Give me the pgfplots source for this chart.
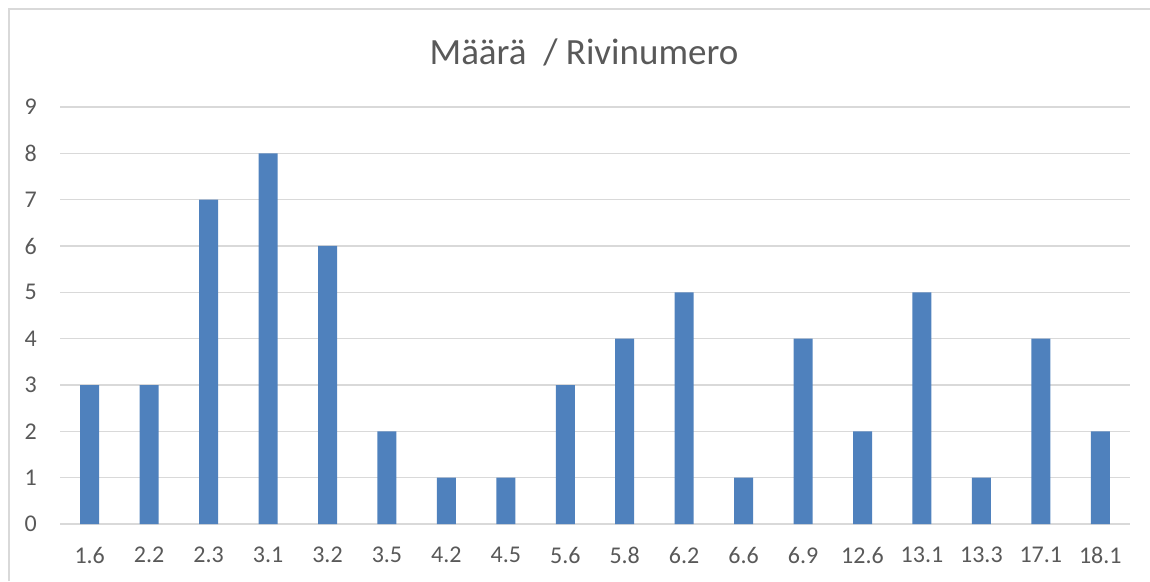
\documentclass[border=0pt]{standalone}
\usepackage{fontspec}
\setmainfont{Carlito}
\usepackage{pgfplots}
\pgfplotsset{compat=1.18}
\definecolor{barblue}{HTML}{4F81BD}
\definecolor{gridgrey}{HTML}{D9D9D9}
\definecolor{txtgrey}{HTML}{595959}
\begin{document}
\begin{tikzpicture}
\path[use as bounding box] (0,0) rectangle (1150pt,581pt);
\draw[gridgrey, line width=2pt] (9pt,0pt) -- (9pt,572pt) -- (1150pt,572pt);
\node[txtgrey, font=\fontsize{37}{42}\selectfont] at (584pt,529pt) {Määrä~ / Rivinumero};
\begin{axis}[
  at={(60pt,57pt)}, anchor=south west,
  scale only axis, width=1070pt, height=417pt,
  ybar, bar width=19pt,
  xmin=-0.5, xmax=17.5, ymin=0, ymax=9,
  xtick=data,
  xticklabels={1.6,2.2,2.3,3.1,3.2,3.5,4.2,4.5,5.6,5.8,6.2,6.6,6.9,12.6,13.1,13.3,17.1,18.1},
  ytick={0,1,...,9},
  major tick length=0pt,
  axis x line*=bottom, axis y line*=left,
  x axis line style={gridgrey, line width=1.5pt, -},
  y axis line style={draw=none},
  ymajorgrids, grid style={gridgrey, line width=1.2pt},
  /pgf/number format/assume math mode=true,
  ticklabel style={txtgrey, font=\fontsize{24}{28}\selectfont, inner sep=0pt},
  yticklabel style={anchor=east, xshift=-23pt},
  xticklabel style={anchor=north, yshift=-23pt},
]
\addplot[fill=barblue, draw=none] coordinates {
(0,3) (1,3) (2,7) (3,8) (4,6) (5,2) (6,1) (7,1) (8,3) (9,4) (10,5) (11,1) (12,4) (13,2) (14,5) (15,1) (16,4) (17,2)
};
\end{axis}
\end{tikzpicture}
\end{document}
